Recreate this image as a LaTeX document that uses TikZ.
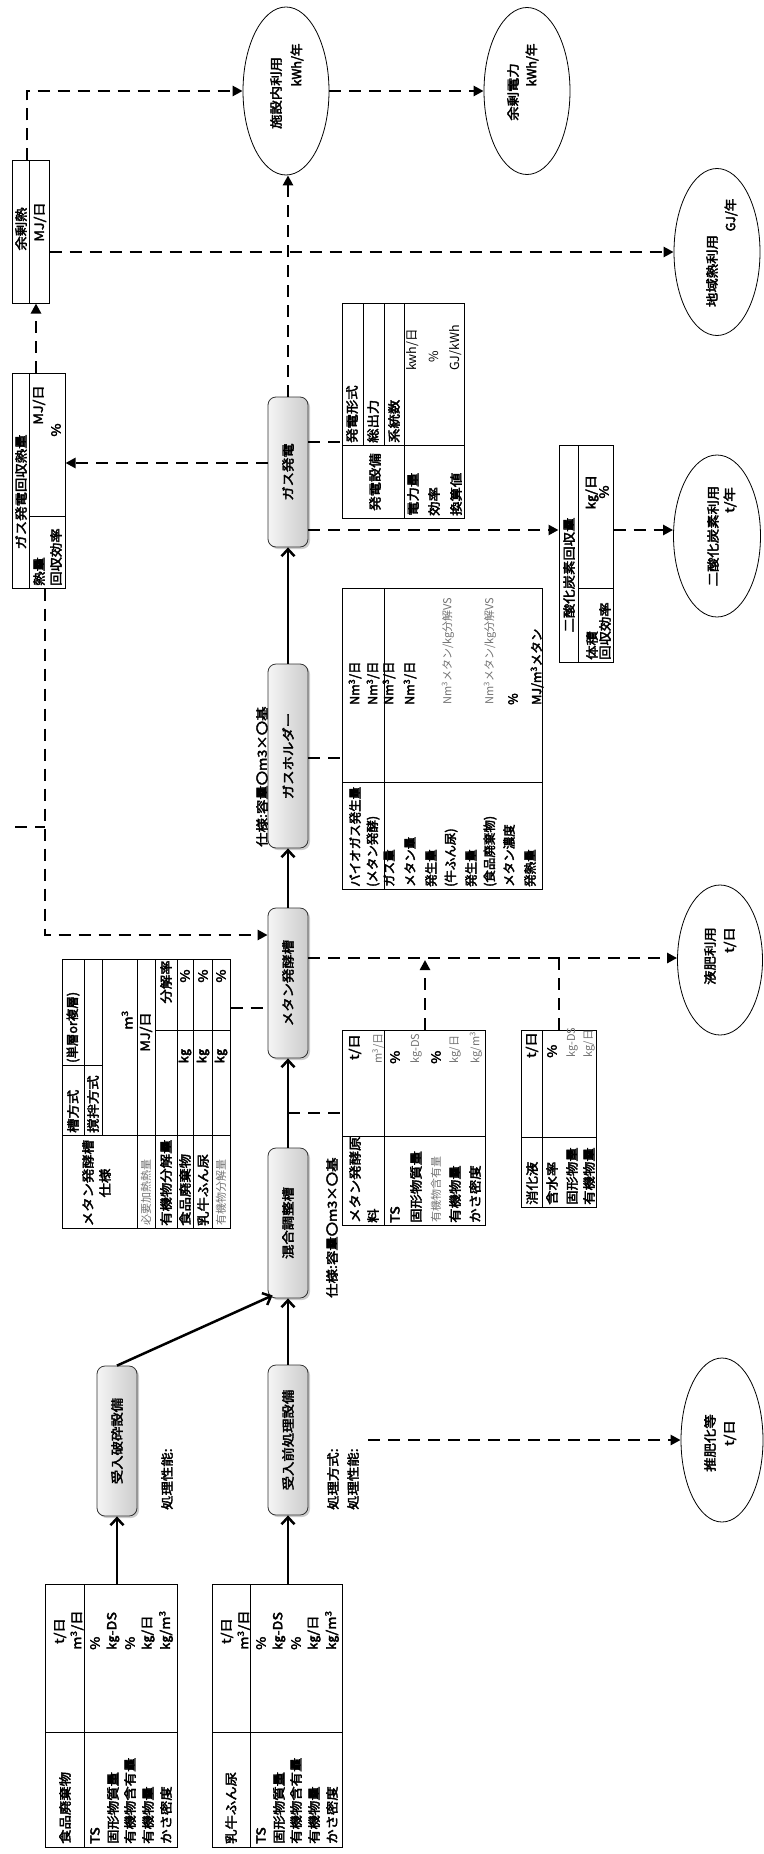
\documentclass[tikz,border=0pt]{standalone}
\usepackage{fontspec}
\usepackage{graphicx}
\setmainfont{Noto Sans CJK JP}
\newfontfamily\jpr{Noto Sans CJK JP}
\newfontfamily\jpb{Noto Sans CJK JP}[FakeBold=3,FakeStretch=1.15]
\newfontfamily\jpn{Noto Sans CJK JP}[FakeBold=3]
\usetikzlibrary{arrows.meta,shadows,fit,calc,shapes.geometric}
\newcounter{tn}
\newcommand\tw[4][tx]{\stepcounter{tn}\node[#1,anchor=west] (t\arabic{tn}) at (#2,#3) {#4};}
\newcommand\tc[4][tx]{\stepcounter{tn}\node[#1,anchor=center] (t\arabic{tn}) at (#2,#3) {#4};}
\newcommand\sq{\textsuperscript{3}}
\begin{document}
\begin{tikzpicture}[x=1pt,y=-1pt,
  tx/.style={rotate=90,inner sep=0pt,font=\jpb\fontsize{12.5}{14}\selectfont},
  tn/.style={rotate=90,inner sep=0pt,font=\jpn\fontsize{12.5}{14}\selectfont},
  tg/.style={rotate=90,inner sep=0pt,font=\jpr\fontsize{11}{13}\selectfont,text=black!55},
  tr/.style={rotate=90,inner sep=0pt,font=\jpr\fontsize{12.5}{14}\selectfont},
  tbl/.style={draw,line width=1pt,inner sep=0pt},
  tl/.style={line width=1pt},
  proc/.style={draw=black!80,line width=0.8pt,rounded corners=8pt,minimum width=40pt,minimum height=150pt,left color=gray!8,right color=gray!40,drop shadow={shadow xshift=2pt,shadow yshift=-2pt,fill=black!40},inner sep=0pt,font=\jpb\fontsize{12.5}{14}\selectfont},
  ell/.style={draw,ellipse,line width=0.8pt,inner sep=0pt},
  dsh/.style={line width=2.6pt,dash pattern=on 12pt off 8pt},
  dar/.style={dsh,-{Triangle[length=10pt,width=10pt]}},
  sar/.style={line width=2.5pt,-{Straight Barb[length=7pt,width=13pt]}}
]
\useasboundingbox (0,0) rectangle (763,1854);

% ---------------- process boxes
\node[proc] (crush) at (117,1441) {\rotatebox{90}{受入破砕設備}};
\node[proc] (pre) at (288,1440) {\rotatebox{90}{受入前処理設備}};
\node[proc] (mix) at (288,1223) {\rotatebox{90}{混合調整槽}};
\node[proc] (ferm) at (288,983) {\rotatebox{90}{メタン発酵槽}};
\node[proc,minimum height=184pt] (holder) at (288,756) {\rotatebox{90}{ガスホルダー}};
\node[proc] (gen) at (288,472) {\rotatebox{90}{ガス発電}};

% ---------------- ellipses
\node[ell,minimum width=82pt,minimum height=164pt] (compost) at (722,1440) {};
\node[ell,minimum width=85pt,minimum height=150pt] (liquid) at (720,960) {};
\node[ell,minimum width=87pt,minimum height=162pt] (co2use) at (717,536) {};
\node[ell,minimum width=86pt,minimum height=167pt] (district) at (717,252) {};
\node[ell,minimum width=86pt,minimum height=168pt] (facility) at (286,91) {};
\node[ell,minimum width=86pt,minimum height=167pt] (surplus) at (527,91) {};
\tc{710}{1443}{推肥化等}\tc{730}{1433}{t/日}
\tc{710}{956}{液肥利用}\tc{730}{940}{t/日}
\tc{713}{536}{二酸化炭素利用}\tc{730}{500}{t/年}
\tc{712}{271}{地域熱利用}\tc[tn]{731}{215}{GJ/年}
\tc{276}{93}{施設内利用}\tc[tn]{297}{65}{kWh/年}
\tc{513}{92}{余剰電力}\tc[tn]{532}{65}{kWh/年}

% ---------------- table A
\node[tbl,fit={(45,1584)(177,1847)}] (tA) {};
\draw[tl] (84,1584)--(84,1847) (45,1732)--(177,1732);
\tw{65}{1844}{食品廃棄物}
\tw{60}{1644}{t/日}\tw{77}{1650}{m\sq/日}
\tw{95}{1844}{TS}\tw{113}{1844}{固形物質量}\tw{130}{1844}{有機物含有量}\tw{148}{1844}{有機物量}\tw{166}{1844}{かさ密度}
\tw{95}{1650}{\%}\tw{113}{1650}{㎏-DS}\tw{130}{1650}{\%}\tw{148}{1650}{㎏/日}\tw{166}{1650}{㎏/m\sq}

% ---------------- table B
\node[tbl,fit={(212,1584)(342,1847)}] (tB) {};
\draw[tl] (250,1584)--(250,1847) (212,1732)--(342,1732);
\tw{231}{1844}{乳牛ふん尿}
\tw{227}{1644}{t/日}\tw{244}{1650}{m\sq/日}
\tw{261}{1844}{TS}\tw{279}{1844}{固形物質量}\tw{296}{1844}{有機物含有量}\tw{314}{1844}{有機物量}\tw{332}{1844}{かさ密度}
\tw{261}{1650}{\%}\tw{279}{1650}{㎏-DS}\tw{296}{1650}{\%}\tw{314}{1650}{㎏/日}\tw{332}{1650}{㎏/m\sq}

% ---------------- labels
\tw{167}{1510}{処理性能:}
\tw{333}{1510}{処理方式:}
\tw{353}{1510}{処理性能:}
\tw{332}{1298}{仕様:容量〇m3×〇基}
\tw{262}{847}{仕様:容量〇m3×〇基}

% ---------------- spec table (methane tank)
\node[tbl,fit={(62,959)(230,1228)}] (spectbl) {};
\draw[tl] (62,1135)--(230,1135) (62,1065)--(102,1065) (155,1030)--(230,1030)
  (84,959)--(84,1135) (102,959)--(102,1135)
  (137,959)--(137,1228) (155,959)--(155,1228) (177,959)--(177,1228)
  (193,959)--(193,1228) (212,959)--(212,1228);
\tc{88}{1183}{メタン発酵槽}\tc{105}{1183}{仕様}
\tw{73}{1133}{槽方式}\tw{93}{1133}{撹拌方式}
\tw[tn]{73}{1063}{(単層or複層)}
\tc{127}{1020}{m\sq}
\tw[tg]{146}{1226}{必要加熱熱量}\tc{146}{1032}{MJ/日}
\tw{166}{1226}{有機物分解量}\tc{166}{982}{分解率}
\tw{185}{1226}{食品廃棄物}\tc{185}{1056}{㎏}\tc{185}{976}{\%}
\tw{203}{1226}{乳牛ふん尿}\tc{203}{1056}{㎏}\tc{203}{976}{\%}
\tw[tg]{221}{1226}{有機物分解量}\tc{221}{1056}{㎏}\tc{221}{976}{\%}

% ---------------- raw material table
\node[tbl,fit={(342,1030)(485,1225)}] (rawtbl) {};
\draw[tl] (384,1030)--(384,1225) (342,1136)--(485,1136);
\tw{355}{1223}{メタン発酵原}\tw{373}{1223}{料}
\tw{355}{1060}{t/日}\tw[tg]{378}{1064}{m\sq/日}
\tw{395}{1223}{TS}\tw{416}{1223}{固形物質量}\tw[tg]{436}{1223}{有機物含有量}\tw{455}{1223}{有機物量}\tw{475}{1223}{かさ密度}
\tw{395}{1064}{\%}\tw[tg]{416}{1064}{kg-DS}\tw{436}{1064}{\%}\tw[tg]{455}{1064}{kg/日}\tw[tg]{476}{1064}{kg/m\sq}

% ---------------- digestate table
\node[tbl,fit={(521,1030)(596,1207)}] (digtbl) {};
\draw[tl] (542,1030)--(542,1207) (521,1137)--(596,1137);
\tw{532}{1205}{消化液}\tw{552}{1205}{含水率}\tw{572}{1205}{固形物量}\tw{589}{1205}{有機物量}
\tw{532}{1058}{t/日}\tw{552}{1058}{\%}\tw[tg]{572}{1058}{kg-DS}\tw[tg]{589}{1058}{kg/日}

% ---------------- biogas table
\node[tbl,fit={(342,588)(542,889)}] (biotbl) {};
\draw[tl] (384,588)--(384,889) (342,782)--(542,782);
\tw[tn]{355}{887}{バイオガス発生量}\tw[tn]{373}{887}{(メタン発酵)}
\tw[tn]{355}{705}{Nm\sq/日}\tw[tn]{373}{705}{Nm\sq/日}
\tw[tn]{389}{887}{ガス量}\tw[tn]{410}{887}{メタン量}\tw[tn]{431}{887}{発生量}\tw[tn]{451}{887}{(牛ふん尿)}
\tw[tn]{471}{887}{発生量}\tw[tn]{490}{887}{(食品廃棄物)}\tw[tn]{509}{887}{メタン濃度}\tw[tn]{530}{887}{発熱量}
\tw[tn]{389}{705}{Nm\sq/日}\tw[tn]{410}{705}{Nm\sq/日}\tw[tg]{448}{705}{Nm\sq メタン/kg分解VS}\tw[tg]{490}{705}{Nm\sq メタン/kg分解VS}
\tw[tn]{513}{705}{\%}\tw[tn]{537}{705}{MJ/m\sq メタン}

% ---------------- generator table
\node[tbl,fit={(342,303)(464,518)}] (gentbl) {};
\draw[tl] (342,445)--(464,445) (363,303)--(363,445) (384,303)--(384,445) (404,303)--(404,518);
\tc{375}{482}{発電設備}
\tw{352}{443}{発電形式}\tw{373}{443}{総出力}\tw{394}{443}{系統数}
\tw{413}{516}{電力量}\tw{434}{516}{効率}\tw{456}{516}{換算値}
\tc[tr]{413}{350}{kwh/日}\tc[tr]{434}{357}{\%}\tc[tr]{456}{348}{GJ/kWh}

% ---------------- CO2 table
\node[tbl,fit={(559,445)(613,662)}] (co2tbl) {};
\draw[tl] (578,445)--(578,662) (578,588)--(613,588);
\tc{569}{575}{二酸化炭素回収量}
\tw{592}{660}{体積}\tw{605}{660}{回収効率}
\tc{592}{492}{㎏/日}\tc{604}{492}{\%}

% ---------------- surplus heat table
\node[tbl,fit={(12.5,161)(49,303)}] (yojo) {};
\draw[tl] (29.6,161)--(29.6,303);
\tc{21}{229}{余剰熱}\tc{40}{222}{MJ/日}

% ---------------- heat recovery table
\node[tbl,fit={(12.5,373)(65,588)}] (heatrec) {};
\draw[tl] (29,373)--(29,588) (29,516)--(65,516);
\tc{21}{492}{ガス発電回収熱量}
\tw{39}{586}{熱量}\tw{56}{586}{回収効率}
\tc{39}{405}{MJ/日}\tc{56}{430}{\%}

% ---------------- solid arrows
\draw[sar] (crush.south |- tA.north) -- (crush.south);
\draw[sar] (pre.south |- tB.north) -- (pre.south);
\draw[sar] (pre.north) -- (mix.south);
\draw[sar] (crush.north) -- ($(mix.south west)+(5,-3)$);
\draw[sar] (mix.north) -- (ferm.south);
\draw[sar] (ferm.north) -- (holder.south);
\draw[sar] (holder.north) -- (gen.south);

% ---------------- dashed connectors
\coordinate (cs) at (368,1440);
\coordinate (j1) at (559,958);
\coordinate (j2) at (425,960);
\coordinate (k1) at (45,935);
\coordinate (k2) at (15,827);
\draw[dar] (cs) -- (compost.west);
\draw[dar] (ferm.east |- 0,958) -- (liquid.west |- 0,958);
\draw[dsh] (digtbl.north -| j1) -- (j1);
\draw[dar] (rawtbl.north -| j2) -- (j2);
\draw[dsh] (mix.north |- 0,1113) -- (rawtbl.west |- 0,1113);
\draw[dsh] (spectbl.east |- 0,1008) -- (ferm.west |- 0,1008);
\draw[dsh] (holder.east |- 0,758) -- (biotbl.west |- 0,758);
\draw[dsh] (gen.east |- 0,442) -- (gentbl.west |- 0,442);
\draw[dar] (gen.east |- 0,530) -- (co2tbl.west |- 0,530);
\draw[dar] (co2tbl.east |- 0,530) -- (co2use.west |- 0,530);
\draw[dar] (gen.west |- 0,463) -- (heatrec.east |- 0,463);
\draw[dar] (gen.north) -- (gen.north |- facility.south);
\draw[dar] (facility.east) -- (surplus.west);
\draw[dar] (yojo.east |- district.west) -- (district.west);
\draw[dar] (27,0 |- yojo.north) -- (27,0 |- facility.west) -- (facility.west);
\draw[dar] (36,0 |- heatrec.north) -- (36,0 |- yojo.south);
\draw[dar] (k1 |- heatrec.south) -- (k1) -- (ferm.west |- k1);
\draw[dsh] (k2) -- (k2 -| k1);
\end{tikzpicture}
\end{document}
